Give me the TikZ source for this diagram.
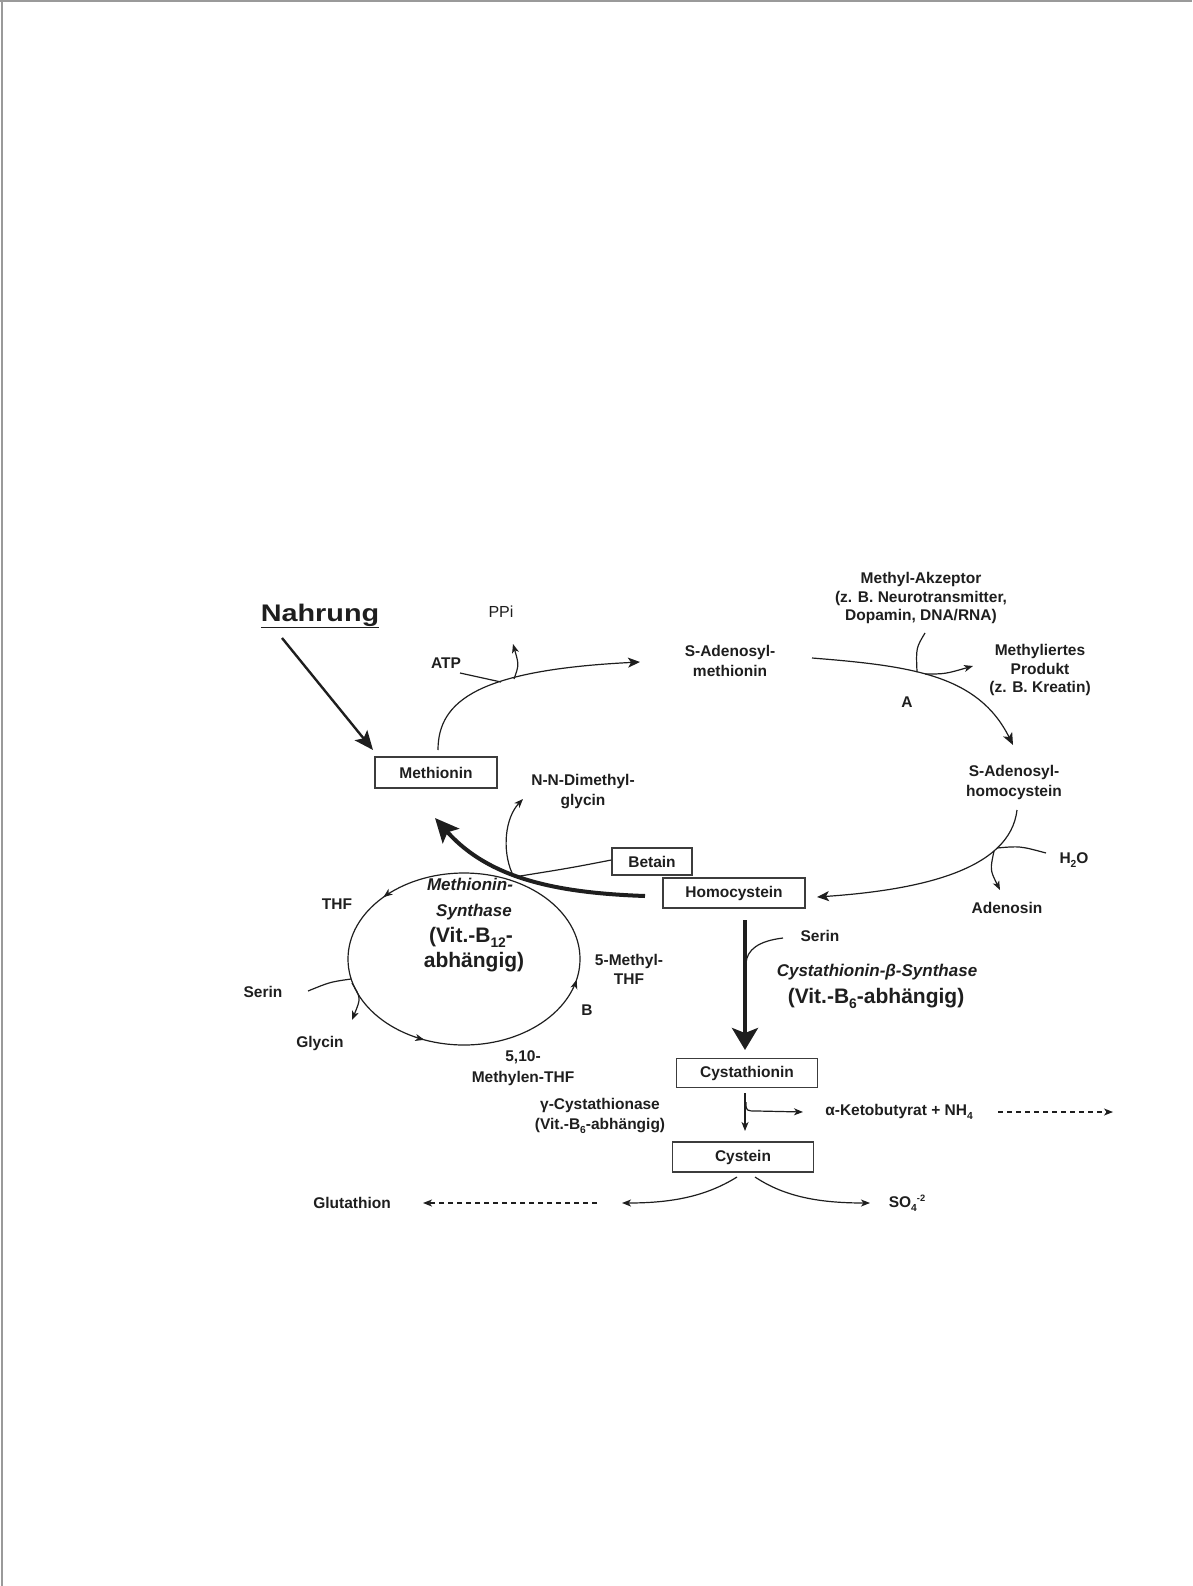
\documentclass[tikz,border=0pt]{standalone}
\usepackage{fontspec}
\setmainfont{Liberation Sans}
\usepackage{graphicx}
\usetikzlibrary{arrows.meta}
\definecolor{ink}{HTML}{1E1E1E}
\definecolor{boxc}{HTML}{3C3C3C}
\definecolor{pagec}{HTML}{9A9A9A}
\newcommand\myfs[2]{\fontsize{#1}{#2}\selectfont}
\newcommand\subt[1]{\raisebox{-0.24em}{\scalebox{0.66}{#1}}}
\newcommand\supt[1]{\raisebox{0.42em}{\scalebox{0.6}{#1}}}
\tikzset{
 lbl/.style={inner sep=0pt, text=ink, font=\myfs{15.5}{20}\bfseries, align=center},
 lblit/.style={inner sep=0pt, text=ink, font=\myfs{17}{20}\bfseries\itshape},
 lblbig/.style={inner sep=0pt, text=ink, font=\myfs{21}{24}\bfseries},
 molbox/.style={lbl, draw=boxc, line width=1.3pt, minimum height=30pt},
 thinl/.style={draw=ink, line width=1.2pt},
 tipS/.style={-{Stealth[length=9pt,width=7pt,inset=2.5pt]}},
 tipM/.style={-{Stealth[length=12pt,width=10pt,inset=3pt]}},
 dashl/.style={dash pattern=on 5pt off 4pt},
}
\begin{document}
\begin{tikzpicture}[x=1pt,y=-1pt]
\useasboundingbox (0,0) rectangle (1192,1586);
% page frame
\draw[pagec, line width=1.5pt] (0,1) -- (1192,1);
\draw[pagec, line width=1.5pt] (2,0) -- (2,1586);

% ---------- nodes ----------
\node[inner sep=0pt, text=ink, font=\myfs{24}{28}\bfseries] (nahrung) at (320,616) {\scalebox{1.2}[1]{\underline{Nahrung}}};
\node[inner sep=0pt, text=ink, font=\myfs{16}{20}] (ppi) at (501,612) {PPi};
\node[lbl] (atp) at (446,663) {ATP};
\node[molbox, minimum width=122pt, minimum height=31pt] (methionin) at (436,772.5) {Methionin};
\node[lbl] (sam) at (730,661) {S-Adenosyl-\\methionin};
\node[lbl, font=\myfs{15.5}{18.5}\bfseries] (akz) at (921,598) {Methyl-Akzeptor\\(z. B. Neurotransmitter,\\Dopamin, DNA/RNA)};
\node[lbl, font=\myfs{15.5}{18.5}\bfseries] (prod) at (1040,670) {Methyliertes\\Produkt\\(z. B. Kreatin)};
\node[lbl] (alab) at (907,702) {A};
\node[lbl] (sah) at (1014,782) {S-Adenosyl-\\homocystein};
\node[lbl] (h2o) at (1074,860) {H\subt{2}O};
\node[lbl] (adenosin) at (1007,908) {Adenosin};
\node[molbox, minimum width=142pt] (homocystein) at (734,893) {Homocystein};
\node[molbox, minimum width=80pt, minimum height=27pt] (betain) at (652,861.5) {Betain};
\node[lbl] (nndmg) at (583,792) {N-N-Dimethyl-\\glycin};
\node[lblit] (ms1) at (470,884) {Methionin-};
\node[lblit] (ms2) at (474,912) {Synthase};
\node[lblbig] (ms3) at (471,937) {(Vit.-B\subt{12}-};
\node[lblbig] (ms4) at (474,962) {abhängig)};
\node[lbl] (thf) at (337,904) {THF};
\node[lbl, font=\myfs{15.5}{19}\bfseries] (mthf) at (629,969) {5-Methyl-\\THF};
\node[lbl] (blab) at (587,1010) {B};
\node[lbl] (serinl) at (263,992) {Serin};
\node[lbl] (glycin) at (320,1043) {Glycin};
\node[lbl, font=\myfs{15.5}{21}\bfseries] (mthf2) at (523,1068) {5,10-\\Methylen-THF};
\node[lbl] (serinr) at (820,936) {Serin};
\node[lblit] (cbs) at (877,972) {Cystathionin-β-Synthase};
\node[lblbig] (vitb6) at (876,998) {(Vit.-B\subt{6}-abhängig)};
\node[molbox, minimum width=141pt, minimum height=29pt] (cystathionin) at (747,1073) {Cystathionin};
\node[lbl] (gamma) at (600,1116) {γ-Cystathionase\\(Vit.-B\subt{6}-abhängig)};
\node[lbl] (keto) at (899,1112) {α-Ketobutyrat + NH\subt{4}};
\node[molbox, minimum width=141pt] (cystein) at (743,1157) {Cystein};
\node[lbl] (so4) at (907,1203) {SO\subt{4}\supt{-2}};
\node[lbl] (glut) at (352,1203) {Glutathion};

% ---------- coordinates ----------
\coordinate (nA) at (282,638);
\coordinate (nB) at (373,750);
\coordinate (mS) at (438,750);
\coordinate (mE) at (640,662);
\coordinate (atpE) at (460,673);
\coordinate (j1) at (501,682);
\coordinate (j2) at (514,679);
\coordinate (ppiE) at (513,644);
\coordinate (sS) at (812,658);
\coordinate (sE) at (1013,745);
\coordinate (akzS) at (925,633);
\coordinate (j3) at (917,672);
\coordinate (j4) at (925,674);
\coordinate (prodE) at (973,666);
\coordinate (hS) at (1017,810);
\coordinate (hE) at (817,897);
\coordinate (wS) at (1046,853);
\coordinate (j5) at (997,848);
\coordinate (j6) at (994,851);
\coordinate (adE) at (1000,890);
\coordinate (tS) at (645,896);
\coordinate (tE) at (435,818);
\coordinate (j7) at (512,873);
\coordinate (j8) at (514,877);
\coordinate (dmgE) at (523,799);
\coordinate (e1a) at (385.0,895.9);
\coordinate (e1b) at (383.4,897.1);
\coordinate (e2a) at (422.4,1039.3);
\coordinate (e2b) at (424.3,1039.8);
\coordinate (e3a) at (576.0,981.7);
\coordinate (e3b) at (576.6,979.8);
\coordinate (serS) at (308,991);
\coordinate (j9) at (351,979);
\coordinate (j10) at (352,983);
\coordinate (glyE) at (352,1020);
\coordinate (cS) at (745,920);
\coordinate (cE) at (745,1050);
\coordinate (srS) at (783,938);
\coordinate (j11) at (746,963);
\coordinate (cyS) at (745,1093);
\coordinate (cyE) at (745,1131);
\coordinate (j12) at (746,1102);
\coordinate (ktE) at (803,1112);
\coordinate (kdS) at (998,1112);
\coordinate (kdE) at (1113,1112);
\coordinate (clS) at (737,1177);
\coordinate (clE) at (622,1203);
\coordinate (crS) at (755,1177);
\coordinate (crE) at (870,1203);
\coordinate (gdS) at (597,1203);
\coordinate (gdE) at (423,1203);

% ---------- connectors ----------
\draw[draw=ink, line width=2.4pt, -{Stealth[length=19pt,width=16pt,inset=4pt]}] (nA) -- (nB);
\draw[thinl, tipM] (mS) .. controls (438,700) and (480,670) .. (mE);
\draw[thinl] (atpE) .. controls (480,677) .. (j1);
\draw[thinl, tipS] (j2) .. controls (519,665) .. (ppiE);
\draw[thinl, tipM] (sS) .. controls (912,666) and (978,675) .. (sE);
\draw[thinl] (akzS) .. controls (916,648) .. (j3);
\draw[thinl, tipS] (j4) .. controls (945,674) .. (prodE);
\draw[thinl, tipM] (hS) .. controls (1010,870) and (920,890) .. (hE);
\draw[thinl] (wS) .. controls (1020,846) .. (j5);
\draw[thinl, tipS] (j6) .. controls (990,870) .. (adE);
\draw[thinl] ([yshift=1.5pt]betain.west) .. controls (570,868) .. (j8);
\draw[thinl, tipS] (j7) .. controls (502,850) and (505,818) .. (dmgE);
\draw[draw=ink, line width=4pt, -{Stealth[length=24pt,width=22pt,inset=5pt]}] (tS) .. controls (560,893) and (490,880) .. (tE);

\draw[thinl] (464,959) ellipse [x radius=116, y radius=86];
\draw[thinl, tipS] (e1a) -- (e1b);
\draw[thinl, tipS] (e2a) -- (e2b);
\draw[thinl, tipS] (e3a) -- (e3b);
\draw[thinl] (serS) .. controls (330,982) .. (j9);
\draw[thinl, tipS] (j10) .. controls (361,998) .. (glyE);

\draw[draw=ink, line width=4pt, -{Stealth[length=22pt,width=26pt,inset=5pt]}] (cS) -- (cE);
\draw[thinl] (srS) .. controls (758,941) and (747,950) .. (j11);
\draw[thinl, tipS] (cyS) -- (cyE);
\draw[thinl, tipS] (j12) .. controls (746,1111) .. (757,1111) -- (ktE);
\draw[thinl, dashl, tipS] (kdS) -- (kdE);
\draw[thinl, tipS] (clS) .. controls (705,1197) and (670,1203) .. (clE);
\draw[thinl, tipS] (crS) .. controls (785,1197) and (820,1203) .. (crE);
\draw[thinl, dashl, tipS] (gdS) -- (gdE);
\end{tikzpicture}
\end{document}
